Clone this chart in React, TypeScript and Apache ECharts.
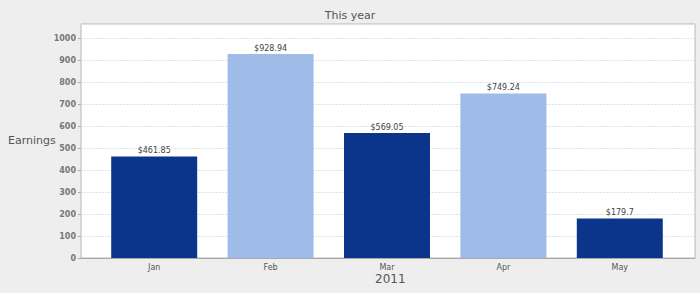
import React, { useEffect, useRef } from "react";
import * as echarts from "echarts";

const categories = ["Jan", "Feb", "Mar", "Apr", "May"];
const earnings = [461.85, 928.94, 569.05, 749.24, 179.7];
const barColors = ["#0b358b", "#9ebce7", "#0b358b", "#9ebce7", "#0b358b"];
const chartTitle = "This year";
const yAxisName = "Earnings";
const xAxisName = "2011";

const Y_MAX = 1066;

export default function App() {
  const ref = useRef<HTMLDivElement>(null);
  useEffect(() => {
    if (!ref.current) return;
    const chart = echarts.init(ref.current, null, { renderer: "svg" });
    chart.setOption({
      animation: false,
      backgroundColor: "#eeeeee",
      title: {
        text: chartTitle,
        left: "center",
        top: 5,
        textStyle: { fontFamily: "DejaVu Sans", fontSize: 11, fontWeight: "normal", color: "#555" },
      },
      graphic: [
        {
          type: "text",
          left: 8,
          top: 135,
          style: { text: yAxisName, font: "11px 'DejaVu Sans'", fill: "#555" },
        },
        {
          type: "text",
          left: 375,
          top: 273,
          style: { text: xAxisName, font: "12px 'DejaVu Sans'", fill: "#555" },
        },
      ],
      grid: [
        {
          left: 81,
          top: 24,
          width: 614,
          height: 234,
          show: true,
          backgroundColor: "#ffffff",
          borderColor: "#b8b8b8",
          borderWidth: 1,
        },
        { left: 96, top: 24, width: 582, height: 234 },
      ],
      xAxis: [
        {
          type: "category",
          gridIndex: 0,
          data: [""],
          axisLine: { show: true, lineStyle: { color: "#a8a8a8" } },
          axisTick: { show: false },
          axisLabel: { show: false },
        },
        {
          type: "category",
          gridIndex: 1,
          data: categories,
          axisLine: { show: false },
          axisTick: { show: false },
          axisLabel: { fontFamily: "DejaVu Sans", fontSize: 8, color: "#555", margin: 5 },
        },
      ],
      yAxis: [
        {
          type: "value",
          gridIndex: 0,
          min: 0,
          max: Y_MAX,
          interval: 100,
          axisLine: { show: false },
          axisTick: { show: true, length: 3, lineStyle: { color: "#aaa" } },
          axisLabel: {
            showMaxLabel: false,
            formatter: (v: number) => String(v),
            fontFamily: "DejaVu Sans",
            fontSize: 8,
            fontWeight: "bold",
            color: "#777",
            margin: 5,
          },
          splitLine: { show: true, lineStyle: { color: "#dde3ea", type: [2, 1] } },
        },
        {
          type: "value",
          gridIndex: 1,
          min: 0,
          max: Y_MAX,
          show: false,
          splitLine: { show: false },
        },
      ],
      series: [
        {
          type: "bar",
          xAxisIndex: 1,
          yAxisIndex: 1,
          barWidth: 86,
          data: earnings.map((v, i) => ({ value: v, itemStyle: { color: barColors[i] } })),
          label: {
            show: true,
            position: "top",
            distance: 2,
            fontFamily: "DejaVu Sans",
            fontSize: 8,
            color: "#444",
            formatter: (p: any) => "$" + p.value,
          },
        },
      ],
    });
    return () => chart.dispose();
  }, []);
  return (
    <div
      ref={ref}
      style={{ position: "fixed", left: 0, top: 0, width: 700, height: 293 }}
    />
  );
}
